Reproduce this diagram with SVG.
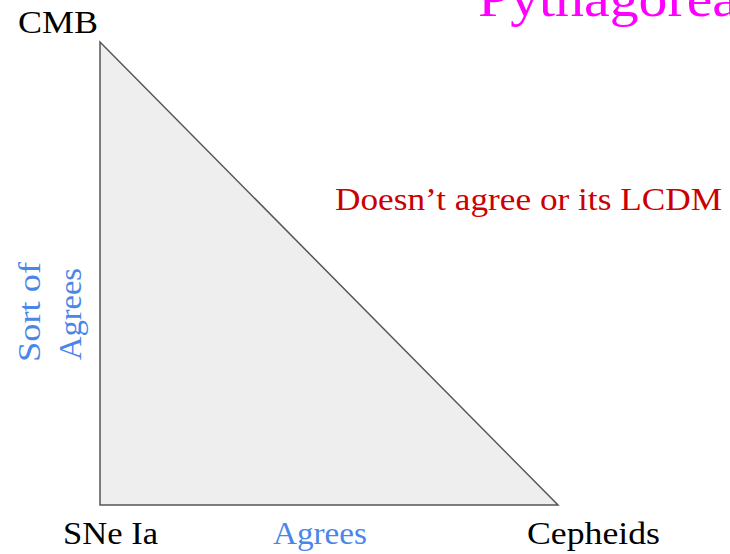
<svg xmlns="http://www.w3.org/2000/svg" width="730" height="554" viewBox="0 0 730 554">
<style>
text{font-family:"Liberation Serif","DejaVu Serif",serif;font-size:32px}
.k{fill:#000}
.b{fill:#4a86e8}
.r{fill:#cc0000}
.m{fill:#ff00ff}
</style>
<rect width="730" height="554" fill="#fff"/>
<g id="triangle">
<polygon points="100,42 100,505 558,505" fill="#eeeeee" stroke="#555555" stroke-width="1.5" stroke-linejoin="miter"/>
</g>
<g id="title"><text class="m" x="478" y="16" style="font-size:52px" textLength="260" lengthAdjust="spacingAndGlyphs">Pythagorea</text></g>
<g id="cmb"><text class="k" x="18" y="33" textLength="80" lengthAdjust="spacingAndGlyphs">CMB</text></g>
<g id="sne"><text class="k" x="63" y="544" textLength="95" lengthAdjust="spacingAndGlyphs">SNe Ia</text></g>
<g id="cepheids"><text class="k" x="527" y="544" textLength="133" lengthAdjust="spacingAndGlyphs">Cepheids</text></g>
<g id="agrees-bottom"><text class="b" x="273" y="544" textLength="94" lengthAdjust="spacingAndGlyphs">Agrees</text></g>
<g id="lcdm"><text class="r" x="335" y="210" textLength="387" lengthAdjust="spacingAndGlyphs">Doesn’t agree or its LCDM</text></g>
<g id="sortof">
<text class="b" transform="translate(40,312) rotate(-90)" text-anchor="middle" textLength="100" lengthAdjust="spacingAndGlyphs">Sort of</text>
<text class="b" transform="translate(81,314) rotate(-90)" text-anchor="middle" textLength="92" lengthAdjust="spacingAndGlyphs">Agrees</text>
</g>
</svg>
